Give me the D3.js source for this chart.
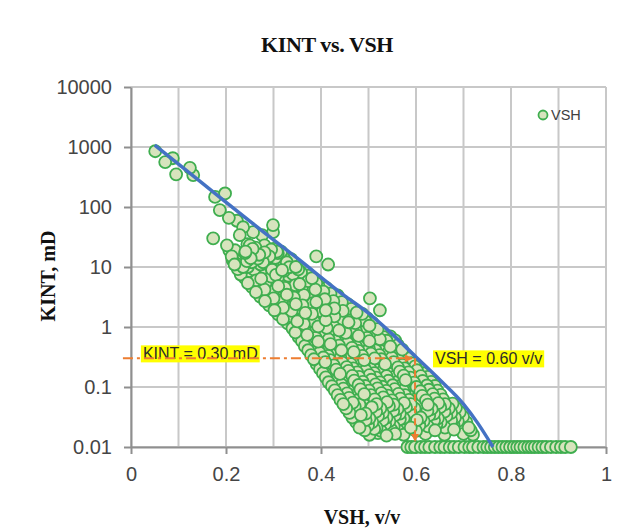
<!DOCTYPE html>
<html>
<head>
<meta charset="utf-8">
<script src="https://cdn.jsdelivr.net/npm/d3@7/dist/d3.min.js"></script>
<style>
  body { margin: 0; background: #fff; }
  svg { display: block; }
</style>
</head>
<body>
<script>
// axis ticks
const xTicks = [0, 0.2, 0.4, 0.6, 0.8, 1],
    xTickLabels = ["0", "0.2", "0.4", "0.6", "0.8", "1"],
    xGrid = [0, 0.1, 0.2, 0.3, 0.4, 0.5, 0.6, 0.7, 0.8, 0.9, 1],
    yTicks = [0.01, 0.1, 1, 10, 100, 1000, 10000],
    yTickLabels = ["0.01", "0.1", "1", "10", "100", "1000", "10000"];

// VSH (v/v), KINT (mD) - sparse points at low shale volume
const sparsePoints = [
  [0.051, 850], [0.072, 560], [0.088, 650], [0.095, 350], [0.124, 450], [0.131, 340],
  [0.177, 147], [0.198, 168], [0.187, 89], [0.206, 66], [0.223, 59], [0.173, 30],
  [0.202, 23], [0.207, 19], [0.229, 34], [0.236, 46], [0.257, 38], [0.276, 34],
  [0.299, 50], [0.299, 38], [0.24, 17], [0.25, 23], [0.278, 12], [0.307, 18],
  [0.328, 12], [0.229, 9.6], [0.257, 9.6], [0.297, 9]
];

// main band of points
const bandPoints = [
  [0.245, 24], [0.262, 21], [0.281, 23], [0.30, 20],
  [0.219, 19], [0.241, 18], [0.256, 20], [0.281, 17.5], [0.295, 19.5], [0.316, 18],
  [0.212, 15], [0.231, 17], [0.252, 14], [0.27, 16], [0.291, 15], [0.309, 17], [0.322, 14],
  [0.214, 13], [0.229, 14], [0.244, 12.5], [0.267, 13.8], [0.283, 12.8], [0.304, 14.2], [0.319, 13], [0.337, 13.5],
  [0.218, 11], [0.236, 10], [0.254, 12], [0.273, 11], [0.294, 10], [0.312, 12], [0.331, 11], [0.347, 10],
  [0.225, 9.2], [0.246, 10], [0.259, 9], [0.281, 9.8], [0.297, 9.3], [0.318, 8.9], [0.333, 9.9], [0.352, 9.1],
  [0.231, 7.5], [0.249, 8.5], [0.268, 7.8], [0.287, 8.2], [0.305, 7.4], [0.322, 8.6], [0.341, 7.6], [0.358, 8.1], [0.372, 7.2],
  [0.24, 6.5], [0.259, 7.1], [0.274, 6.4], [0.295, 6.9], [0.309, 6.6], [0.331, 7.2], [0.345, 6.3], [0.367, 6.8], [0.381, 6.5],
  [0.246, 5.4], [0.264, 6.0], [0.283, 5.3], [0.301, 5.9], [0.318, 5.5], [0.337, 6.1], [0.355, 5.2], [0.373, 5.8], [0.39, 5.4],
  [0.255, 4.6], [0.275, 4.9], [0.289, 4.4], [0.31, 4.8], [0.324, 4.5], [0.346, 5.0], [0.36, 4.6], [0.381, 4.4], [0.395, 4.8], [0.411, 4.5],
  [0.263, 3.8], [0.281, 4.2], [0.299, 3.9], [0.316, 4.3], [0.334, 3.7], [0.352, 4.1], [0.37, 3.8], [0.388, 4.2], [0.405, 3.9], [0.42, 3.6],
  [0.272, 3.2], [0.292, 3.5], [0.306, 3.25], [0.328, 3.45], [0.343, 3.1], [0.364, 3.4], [0.379, 3.3], [0.4, 3.55], [0.415, 3.2], [0.435, 3.35],
  [0.282, 2.7], [0.30, 3.0], [0.318, 2.6], [0.336, 2.9], [0.354, 2.7], [0.372, 3.0], [0.39, 2.6], [0.408, 2.9], [0.426, 2.7], [0.444, 2.6],
  [0.291, 2.3], [0.311, 2.45], [0.325, 2.25], [0.347, 2.4], [0.361, 2.3], [0.383, 2.5], [0.398, 2.3], [0.42, 2.4], [0.434, 2.25], [0.456, 2.4],
  [0.302, 1.9], [0.32, 2.1], [0.338, 1.85], [0.356, 2.05], [0.374, 1.95], [0.392, 2.15], [0.41, 1.9], [0.428, 2.05], [0.446, 1.85], [0.464, 2.0],
  [0.31, 1.62], [0.33, 1.75], [0.345, 1.6], [0.367, 1.72], [0.381, 1.65], [0.403, 1.78], [0.417, 1.6], [0.439, 1.7], [0.453, 1.64], [0.475, 1.74], [0.487, 1.66],
  [0.32, 1.35], [0.338, 1.5], [0.356, 1.3], [0.374, 1.45], [0.392, 1.4], [0.41, 1.3], [0.428, 1.5], [0.446, 1.35], [0.464, 1.45], [0.482, 1.3], [0.497, 1.4],
  [0.33, 1.15], [0.35, 1.24], [0.364, 1.13], [0.386, 1.22], [0.4, 1.17], [0.422, 1.25], [0.436, 1.14], [0.458, 1.2], [0.472, 1.16], [0.494, 1.24], [0.508, 1.18],
  [0.34, 0.95], [0.358, 1.05], [0.376, 0.92], [0.394, 1.02], [0.412, 0.97], [0.43, 1.08], [0.448, 0.93], [0.466, 1.0], [0.484, 0.95], [0.502, 1.05], [0.519, 0.92],
  [0.346, 0.81], [0.366, 0.87], [0.38, 0.8], [0.402, 0.86], [0.416, 0.83], [0.438, 0.88], [0.452, 0.8], [0.474, 0.85], [0.488, 0.82], [0.51, 0.88], [0.526, 0.81],
  [0.353, 0.68], [0.371, 0.74], [0.389, 0.66], [0.407, 0.72], [0.425, 0.69], [0.443, 0.75], [0.461, 0.67], [0.479, 0.71], [0.497, 0.66], [0.515, 0.73], [0.532, 0.68], [0.546, 0.7],
  [0.36, 0.58], [0.38, 0.63], [0.394, 0.57], [0.416, 0.62], [0.43, 0.59], [0.452, 0.64], [0.466, 0.57], [0.488, 0.61], [0.502, 0.58], [0.524, 0.63], [0.538, 0.59], [0.556, 0.6],
  [0.366, 0.48], [0.384, 0.53], [0.402, 0.47], [0.42, 0.52], [0.438, 0.49], [0.456, 0.54], [0.474, 0.47], [0.492, 0.51], [0.51, 0.48], [0.528, 0.53], [0.546, 0.47], [0.562, 0.5],
  [0.373, 0.41], [0.393, 0.44], [0.407, 0.4], [0.429, 0.43], [0.443, 0.41], [0.465, 0.45], [0.479, 0.4], [0.501, 0.43], [0.515, 0.41], [0.537, 0.44], [0.551, 0.4], [0.571, 0.42],
  [0.379, 0.34], [0.397, 0.37], [0.415, 0.33], [0.433, 0.36], [0.451, 0.34], [0.469, 0.38], [0.487, 0.33], [0.505, 0.36], [0.523, 0.34], [0.541, 0.37], [0.559, 0.33], [0.578, 0.35],
  [0.385, 0.29], [0.405, 0.31], [0.419, 0.28], [0.441, 0.305], [0.455, 0.29], [0.477, 0.315], [0.491, 0.28], [0.513, 0.3], [0.527, 0.29], [0.549, 0.31], [0.563, 0.285], [0.585, 0.3],
  [0.391, 0.24], [0.409, 0.26], [0.427, 0.23], [0.445, 0.255], [0.463, 0.24], [0.481, 0.265], [0.499, 0.235], [0.517, 0.25], [0.535, 0.24], [0.553, 0.26], [0.571, 0.235], [0.59, 0.25],
  [0.398, 0.2], [0.418, 0.22], [0.432, 0.195], [0.454, 0.215], [0.468, 0.205], [0.49, 0.22], [0.504, 0.2], [0.526, 0.215], [0.54, 0.198], [0.562, 0.212], [0.576, 0.205], [0.598, 0.22], [0.607, 0.2],
  [0.404, 0.17], [0.422, 0.19], [0.44, 0.165], [0.458, 0.185], [0.476, 0.175], [0.494, 0.19], [0.512, 0.17], [0.53, 0.185], [0.548, 0.165], [0.566, 0.18], [0.584, 0.175], [0.602, 0.19], [0.614, 0.17],
  [0.41, 0.145], [0.43, 0.156], [0.444, 0.142], [0.466, 0.153], [0.48, 0.147], [0.502, 0.158], [0.516, 0.143], [0.538, 0.152], [0.552, 0.146], [0.574, 0.155], [0.588, 0.143], [0.61, 0.152], [0.625, 0.147],
  [0.416, 0.12], [0.434, 0.13], [0.452, 0.118], [0.47, 0.128], [0.488, 0.122], [0.506, 0.132], [0.524, 0.119], [0.542, 0.127], [0.56, 0.121], [0.578, 0.13], [0.596, 0.118], [0.614, 0.126], [0.632, 0.122],
  [0.423, 0.103], [0.443, 0.11], [0.457, 0.1], [0.479, 0.108], [0.493, 0.104], [0.515, 0.111], [0.529, 0.101], [0.551, 0.107], [0.565, 0.103], [0.587, 0.11], [0.601, 0.1], [0.623, 0.106], [0.64, 0.104],
  [0.429, 0.088], [0.447, 0.094], [0.465, 0.085], [0.483, 0.091], [0.501, 0.087], [0.519, 0.095], [0.537, 0.086], [0.555, 0.092], [0.573, 0.088], [0.591, 0.094], [0.609, 0.085], [0.627, 0.09], [0.645, 0.087],
  [0.435, 0.073], [0.455, 0.078], [0.469, 0.071], [0.491, 0.076], [0.505, 0.073], [0.527, 0.079], [0.541, 0.072], [0.563, 0.077], [0.577, 0.073], [0.599, 0.078], [0.613, 0.071], [0.635, 0.076], [0.652, 0.074],
  [0.441, 0.061], [0.459, 0.066], [0.477, 0.06], [0.495, 0.065], [0.513, 0.062], [0.531, 0.067], [0.549, 0.06], [0.567, 0.064], [0.585, 0.061], [0.603, 0.066], [0.621, 0.06], [0.639, 0.064], [0.657, 0.062],
  [0.447, 0.052], [0.467, 0.055], [0.481, 0.051], [0.503, 0.054], [0.517, 0.052], [0.539, 0.056], [0.553, 0.051], [0.575, 0.054], [0.589, 0.052], [0.611, 0.055], [0.625, 0.051], [0.647, 0.054], [0.661, 0.052], [0.677, 0.053],
  [0.453, 0.044], [0.471, 0.047], [0.489, 0.043], [0.507, 0.046], [0.525, 0.044], [0.543, 0.048], [0.561, 0.043], [0.579, 0.046], [0.597, 0.044], [0.615, 0.047], [0.633, 0.043], [0.651, 0.046], [0.669, 0.044], [0.684, 0.045],
  [0.46, 0.037], [0.48, 0.039], [0.494, 0.036], [0.516, 0.039], [0.53, 0.037], [0.552, 0.04], [0.566, 0.036], [0.588, 0.039], [0.602, 0.037], [0.624, 0.04], [0.638, 0.036], [0.66, 0.039], [0.674, 0.037], [0.692, 0.038],
  [0.466, 0.031], [0.484, 0.034], [0.502, 0.03], [0.52, 0.033], [0.538, 0.031], [0.556, 0.034], [0.574, 0.03], [0.592, 0.033], [0.61, 0.031], [0.628, 0.034], [0.646, 0.03], [0.664, 0.033], [0.682, 0.031], [0.699, 0.032],
  [0.474, 0.026], [0.494, 0.028], [0.508, 0.026], [0.53, 0.028], [0.544, 0.027], [0.566, 0.029], [0.58, 0.026], [0.602, 0.028], [0.616, 0.027], [0.638, 0.028], [0.652, 0.026], [0.674, 0.028], [0.688, 0.027], [0.706, 0.026],
  [0.481, 0.021], [0.499, 0.023], [0.517, 0.021], [0.535, 0.024], [0.553, 0.022], [0.571, 0.023], [0.589, 0.021], [0.607, 0.023], [0.625, 0.022], [0.643, 0.024], [0.661, 0.021], [0.679, 0.023], [0.697, 0.022], [0.711, 0.021],
  [0.492, 0.019], [0.512, 0.02], [0.526, 0.0185], [0.548, 0.0195], [0.562, 0.019], [0.584, 0.02], [0.6, 0.0185], [0.64, 0.019], [0.68, 0.0195], [0.715, 0.019],
  [0.502, 0.016], [0.52, 0.017], [0.538, 0.0155], [0.556, 0.0165], [0.574, 0.016], [0.62, 0.0165], [0.66, 0.016], [0.7, 0.0165], [0.72, 0.016],
  [0.39, 15], [0.415, 11], [0.503, 3.0], [0.524, 1.9]
];

// points sitting at the 0.01 mD floor
const floorVsh = [0.582, 0.59, 0.598, 0.61, 0.619, 0.628, 0.64, 0.651, 0.66, 0.671, 0.68, 0.69,
  0.702, 0.712, 0.72, 0.731, 0.742, 0.75, 0.758, 0.766, 0.774, 0.782, 0.79, 0.798, 0.806,
  0.813, 0.82, 0.828, 0.836, 0.843, 0.85, 0.858, 0.866, 0.874, 0.884, 0.895, 0.905, 0.914, 0.926],
    floorKint = 0.01;

// upper-bound line
const trendVsh = [0.05, 0.15, 0.25, 0.35, 0.45, 0.5, 0.55, 0.6, 0.65, 0.7, 0.73, 0.762],
    trendKint = [1070, 250, 58, 14, 3.3, 1.7, 0.76, 0.316, 0.132, 0.052, 0.025, 0.01];

// cutoff annotation
const cutKint = 0.3, cutVsh = 0.598;

const x = d3.scaleLinear().domain([0, 1]).range([131, 606]),
    y = d3.scaleLog().domain([0.01, 10000]).range([447, 87]);

const svg = d3.select("body").append("svg").attr("width", 618).attr("height", 529);

// grid
svg.append("g").selectAll("line").data(xGrid).join("line")
    .attr("x1", d => x(d)).attr("x2", d => x(d))
    .attr("y1", y(10000)).attr("y2", y(0.01))
    .attr("stroke", "#c8c8c8").attr("stroke-width", 2);
svg.append("g").selectAll("line").data(yTicks).join("line")
    .attr("x1", x(0)).attr("x2", x(1))
    .attr("y1", d => y(d)).attr("y2", d => y(d))
    .attr("stroke", "#c8c8c8").attr("stroke-width", 2);

// axes
const yAxis = svg.append("g").attr("transform", "translate(" + x(0) + ",0)")
    .call(d3.axisLeft(y).tickValues(yTicks).tickFormat((d, i) => yTickLabels[i])
        .tickSize(7).tickSizeOuter(0).tickPadding(12));
const xAxis = svg.append("g").attr("transform", "translate(0," + y(0.01) + ")")
    .call(d3.axisBottom(x).tickValues(xTicks).tickFormat((d, i) => xTickLabels[i])
        .tickSize(7).tickSizeOuter(0).tickPadding(13));
[xAxis, yAxis].forEach(a => {
  a.select(".domain").attr("stroke", "#8f8f8f").attr("stroke-width", 2);
  a.selectAll(".tick line").attr("stroke", "#8f8f8f").attr("stroke-width", 2);
  a.selectAll(".tick text").attr("fill", "#454545")
      .style("font-family", "'Liberation Sans', Arial, sans-serif").style("font-size", "20px");
});

// scatter - drawn in a mixed order, like well-log samples, so overlaps look natural
const allPoints = sparsePoints.concat(bandPoints);
const drawOrder = allPoints.map((d, i) => ({d, k: (i * 7919) % 1009}))
    .sort((a, b) => a.k - b.k).map(o => o.d)
    .concat(floorVsh.map(v => [v, floorKint]));
svg.append("g").selectAll("circle").data(drawOrder).join("circle")
    .attr("cx", d => x(d[0])).attr("cy", d => y(d[1])).attr("r", 6)
    .attr("fill", "#d7e4bd").attr("stroke", "#3fae4f").attr("stroke-width", 1.8);

// trend line
const line = d3.line().x(d => x(d[0])).y(d => y(d[1])).curve(d3.curveMonotoneX);
svg.append("path").datum(trendVsh.map((v, i) => [v, trendKint[i]]))
    .attr("d", line).attr("fill", "none").attr("stroke", "#4472c4").attr("stroke-width", 3.5);

// annotation
const defs = svg.append("defs");
defs.append("marker").attr("id", "arr").attr("viewBox", "0 0 10 10")
    .attr("refX", 9).attr("refY", 5).attr("markerWidth", 4).attr("markerHeight", 4)
    .attr("orient", "auto").append("path").attr("d", "M0,0L10,5L0,10z").attr("fill", "#ed7d31");

function label(txt, lx, by) {
  const g = svg.append("g");
  const bg = g.append("rect").attr("fill", "#ffff00");
  const t = g.append("text").attr("x", lx).attr("y", by).text(txt)
      .attr("fill", "#2b2b2b").style("font-family", "'Liberation Sans', Arial, sans-serif")
      .style("font-size", "16px");
  const b = t.node().getBBox();
  bg.attr("x", b.x - 2).attr("y", b.y).attr("width", b.width + 4).attr("height", b.height);
}
label("KINT = 0.30 mD", x(0.025), y(cutKint) + 1);
label("VSH = 0.60 v/v", x(0.64), y(cutKint) + 6);

svg.append("line").attr("x1", x(-0.017)).attr("x2", x(cutVsh) - 3)
    .attr("y1", y(cutKint)).attr("y2", y(cutKint))
    .attr("stroke", "#ed7d31").attr("stroke-width", 2).attr("stroke-dasharray", "10,4,3,4")
    .attr("marker-end", "url(#arr)");
svg.append("line").attr("x1", x(cutVsh)).attr("x2", x(cutVsh))
    .attr("y1", y(cutKint)).attr("y2", y(0.0125))
    .attr("stroke", "#ed7d31").attr("stroke-width", 2).attr("stroke-dasharray", "7,5")
    .attr("marker-end", "url(#arr)");

// legend
svg.append("circle").attr("cx", 543).attr("cy", 115).attr("r", 4.5)
    .attr("fill", "#d7e4bd").attr("stroke", "#3fae4f").attr("stroke-width", 1.8);
svg.append("text").attr("x", 551).attr("y", 120).text("VSH").attr("fill", "#404040")
    .style("font-family", "'Liberation Sans', Arial, sans-serif").style("font-size", "14.5px");

// titles
const serif = "'Liberation Serif', 'Times New Roman', serif";
svg.append("text").attr("x", 327).attr("y", 52).attr("text-anchor", "middle")
    .text("KINT vs. VSH").style("font-family", serif).style("font-weight", "bold")
    .style("font-size", "22px").style("letter-spacing", "-0.4px").attr("fill", "#111");
svg.append("text").attr("transform", "translate(55,276) rotate(-90)").attr("text-anchor", "middle")
    .text("KINT, mD").style("font-family", serif).style("font-weight", "bold")
    .style("font-size", "20px").attr("fill", "#111");
svg.append("text").attr("x", 362).attr("y", 524).attr("text-anchor", "middle")
    .text("VSH, v/v").style("font-family", serif).style("font-weight", "bold")
    .style("font-size", "20px").attr("fill", "#111");
</script>
</body>
</html>
